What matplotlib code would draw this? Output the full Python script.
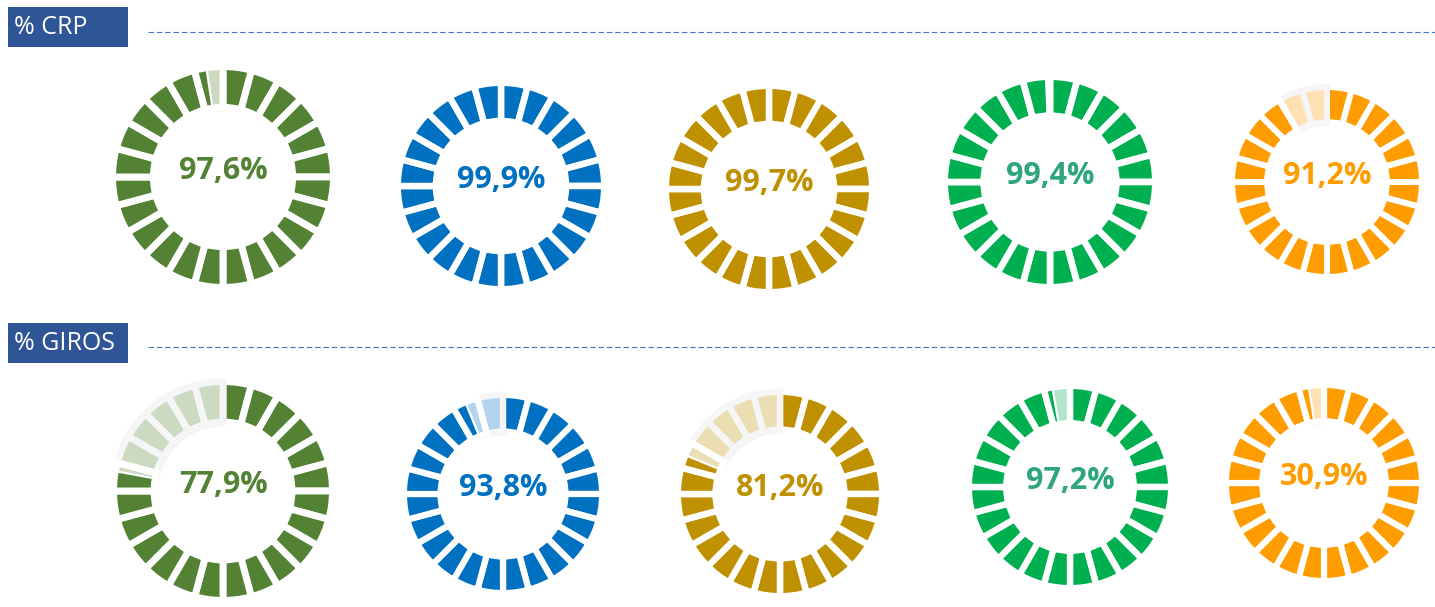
import numpy as np
import matplotlib.pyplot as plt
from matplotlib.patches import Wedge, Rectangle
from matplotlib.colors import to_rgb

# ---- DATA ----
crp_labels = ["97,6%", "99,9%", "99,7%", "99,4%", "91,2%"]
crp_fill = [97.6, 99.9, 99.7, 99.4, 91.2]          # share of ring drawn solid
giros_labels = ["77,9%", "93,8%", "81,2%", "97,2%", "30,9%"]
giros_fill = [77.9, 93.8, 81.2, 97.2, 97.5]
ring_colors = ["#548235", "#0070C0", "#BF9000", "#00B050", "#FF9C00"]
text_colors = ["#548235", "#0070C0", "#BF9000", "#2EA57C", "#FF9C00"]
section_titles = ["% CRP", "% GIROS"]

# ---- LAYOUT (pixels of the 1435x607 canvas) ----
top_centers = [(223, 177), (501, 186), (769, 189), (1050, 182), (1327, 182)]
top_radii = [107, 100, 100, 102, 92]
bot_centers = [(223, 491), (503, 494), (780, 494), (1070, 487), (1324, 483)]
bot_radii = [106, 96, 99, 98, 95]
title_boxes = [(8, 7, 120, 40), (8, 323, 120, 40)]
title_line_y = [32, 347]

n_seg = 24
seg_deg = 360 / n_seg


def light(c, a=0.3):
    rgb = np.array(to_rgb(c))
    return tuple(1 - a * (1 - rgb))


def draw_donut(ax, cx, cy, r, pct, color, label, tcolor):
    gap_px = 0.065 * r
    lw = gap_px * 0.72
    r_out = r + gap_px / 2
    r_in = 0.65 * r
    w = r_out - r_in
    split = pct / 100 * 360
    lc = light(color)
    # light grey bed under the unfilled part
    if split < 360:
        ax.add_patch(Wedge((cx, cy), r_out - 0.1 * r, -90 + split, 270,
                           width=r_out - r_in - 0.06 * r,
                           facecolor="#F3F3F3", edgecolor="none", zorder=1))
    for i in range(n_seg):
        a0, a1 = i * seg_deg, (i + 1) * seg_deg
        t1, t2 = -90 + a0, -90 + a1
        if a1 <= split:
            ax.add_patch(Wedge((cx, cy), r_out, t1, t2, width=w,
                               facecolor=color, edgecolor="white",
                               linewidth=lw, zorder=2))
        elif a0 >= split:
            ax.add_patch(Wedge((cx, cy), r_out, t1, t2, width=w,
                               facecolor=lc, edgecolor="#F6F6F6",
                               linewidth=lw, zorder=2))
        else:
            ts = -90 + split
            ax.add_patch(Wedge((cx, cy), r_out, t1, t2, width=w,
                               facecolor=lc, edgecolor="none", zorder=2))
            ax.add_patch(Wedge((cx, cy), r_out, t1, ts, width=w,
                               facecolor=color, edgecolor="none", zorder=2))
            ang = np.deg2rad(ts)
            ax.plot([cx + r_in * np.cos(ang), cx + r_out * np.cos(ang)],
                    [cy + r_in * np.sin(ang), cy + r_out * np.sin(ang)],
                    color="white", lw=1.6, zorder=3)
            ax.add_patch(Wedge((cx, cy), r_out, t1, t2, width=w,
                               facecolor="none", edgecolor="white",
                               linewidth=lw, zorder=3))
    ax.text(cx, cy - 6, label, ha="center", va="center", fontsize=22,
            fontweight="bold", family="Open Sans", color=tcolor, zorder=4)


fig = plt.figure(figsize=(14.35, 6.07), dpi=100)
ax = fig.add_axes([0, 0, 1, 1])
ax.set_xlim(0, 1435)
ax.set_ylim(607, 0)
ax.set_aspect("equal")
ax.axis("off")

# section headers + dashed rules
for (x, y, bw, bh), ly, title in zip(title_boxes, title_line_y, section_titles):
    ax.add_patch(Rectangle((x, y), bw, bh, facecolor="#2F5597",
                           edgecolor="none", zorder=2))
    ax.text(x + 6, y + bh / 2 + 1, title, ha="left", va="center",
            fontsize=18, family="Open Sans", color="white", zorder=3)
    ax.plot([148, 1435], [ly, ly], color="#4472C4", lw=0.8,
            dashes=(5, 2.5), zorder=1)

for k in range(5):
    cx, cy = top_centers[k]
    draw_donut(ax, cx, cy, top_radii[k], crp_fill[k], ring_colors[k],
               crp_labels[k], text_colors[k])
    cx, cy = bot_centers[k]
    draw_donut(ax, cx, cy, bot_radii[k], giros_fill[k], ring_colors[k],
               giros_labels[k], text_colors[k])

fig.savefig("out.png", dpi=100)
